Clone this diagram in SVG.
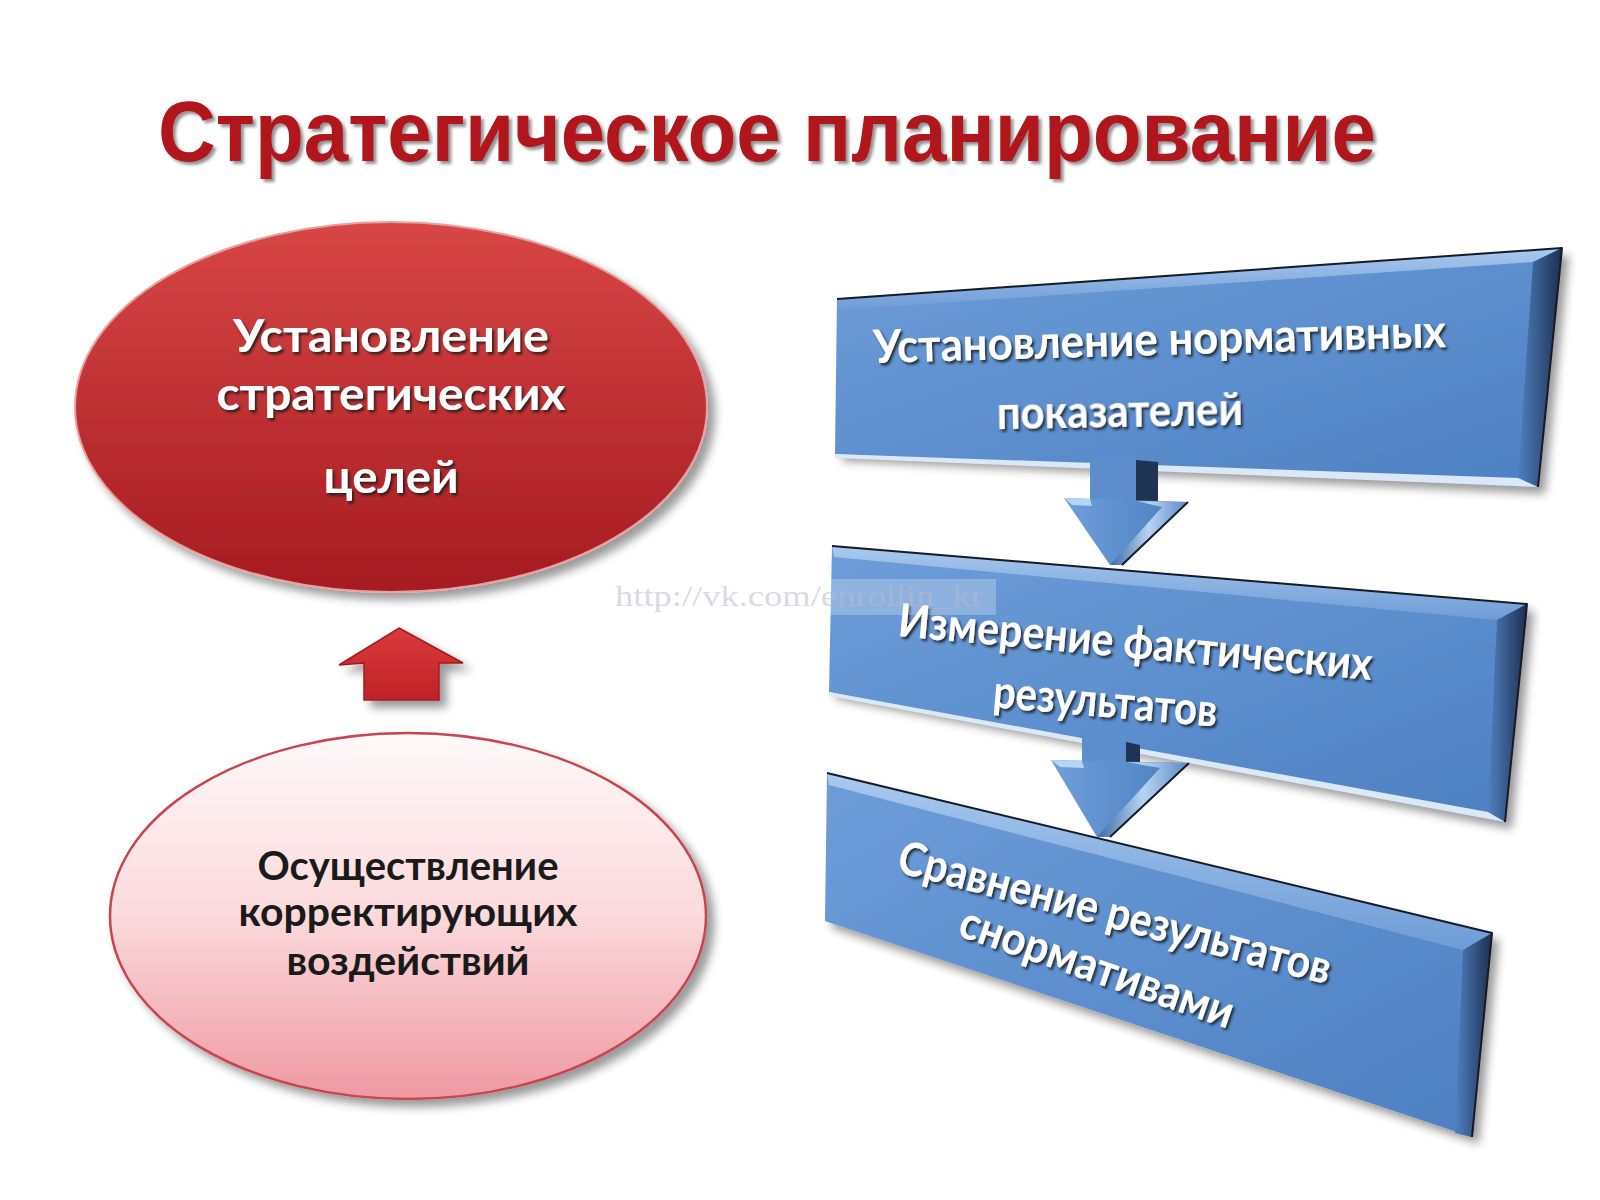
<svg xmlns="http://www.w3.org/2000/svg" width="1600" height="1200" viewBox="0 0 1600 1200">
<defs>
  <linearGradient id="gRed" x1="0" y1="0" x2="0" y2="1">
    <stop offset="0" stop-color="#d84646"/>
    <stop offset="1" stop-color="#a51b20"/>
  </linearGradient>
  <linearGradient id="gPink" x1="0" y1="0" x2="0" y2="1">
    <stop offset="0" stop-color="#fff9f9"/>
    <stop offset="0.5" stop-color="#fbd9dc"/>
    <stop offset="1" stop-color="#ef98a2"/>
  </linearGradient>
  <linearGradient id="gArrowRed" x1="0" y1="0" x2="0" y2="1">
    <stop offset="0" stop-color="#d83a3a"/>
    <stop offset="1" stop-color="#c02228"/>
  </linearGradient>
  <linearGradient id="gBlue" x1="0" y1="0" x2="1" y2="1">
    <stop offset="0" stop-color="#6d9dd9"/>
    <stop offset="1" stop-color="#4d80c2"/>
  </linearGradient>
  <linearGradient id="gTop" x1="0" y1="0" x2="0" y2="1">
    <stop offset="0" stop-color="#a9c9ef"/>
    <stop offset="1" stop-color="#6f9cd6"/>
  </linearGradient>
  <linearGradient id="gSide" x1="0" y1="0" x2="1" y2="0">
    <stop offset="0" stop-color="#4f80c0"/>
    <stop offset="1" stop-color="#1c2f50"/>
  </linearGradient>
  <linearGradient id="gHead" x1="0" y1="0" x2="1" y2="0">
    <stop offset="0" stop-color="#6f9fdb"/>
    <stop offset="1" stop-color="#4a7cbd"/>
  </linearGradient>
  <linearGradient id="gHeadBevel" x1="0" y1="0" x2="1" y2="0">
    <stop offset="0" stop-color="#3d6aa6"/>
    <stop offset="0.5" stop-color="#b8d4f4"/>
    <stop offset="1" stop-color="#5c88c4"/>
  </linearGradient>
  <filter id="shadow" x="-10%" y="-10%" width="130%" height="140%">
    <feGaussianBlur in="SourceAlpha" stdDeviation="5"/>
    <feOffset dx="7" dy="7" result="b"/>
    <feComponentTransfer><feFuncA type="linear" slope="0.4"/></feComponentTransfer>
    <feMerge><feMergeNode/><feMergeNode in="SourceGraphic"/></feMerge>
  </filter>
  <filter id="txtShadow" x="-5%" y="-20%" width="110%" height="150%">
    <feDropShadow dx="2" dy="2.5" stdDeviation="1.2" flood-color="#151515" flood-opacity="0.8"/>
  </filter>
  <filter id="titleShadow" x="-5%" y="-20%" width="110%" height="150%">
    <feDropShadow dx="3" dy="3" stdDeviation="1.5" flood-color="#3a3a3a" flood-opacity="0.55"/>
  </filter>
  <style>
    .title { font-family: "Liberation Sans", Arial, sans-serif; font-weight: 700; font-size: 86px; fill: #b0141a; }
    .wt { font-family: Lato, "Open Sans", "Noto Sans", sans-serif; font-weight: 700; fill: #ffffff; }
    .bt { font-family: Lato, "Open Sans", "Noto Sans", sans-serif; font-weight: 700; fill: #1a1a1a; }
    .edge { fill: none; stroke: #151a24; stroke-width: 2; stroke-linejoin: round; }
    .wm { font-family: "Liberation Serif", "Times New Roman", serif; font-size: 30px; fill: #b8b8cc; fill-opacity: 0.55; }
  </style>
</defs>

<rect x="0" y="0" width="1600" height="1200" fill="#ffffff"/>

<g id="title">
  <text class="title" x="158" y="161" textLength="1218" lengthAdjust="spacingAndGlyphs" filter="url(#titleShadow)">Стратегическое планирование</text>
</g>

<g id="node-goals">
  <ellipse cx="391" cy="407" rx="316" ry="185" fill="url(#gRed)" stroke="#e8a0a0" stroke-width="2" filter="url(#shadow)"/>
  <g filter="url(#txtShadow)">
    <text class="wt" x="391" y="352" font-size="46" text-anchor="middle" textLength="316" lengthAdjust="spacingAndGlyphs">Установление</text>
    <text class="wt" x="391" y="410" font-size="46" text-anchor="middle" textLength="349" lengthAdjust="spacingAndGlyphs">стратегических</text>
    <text class="wt" x="391" y="493" font-size="46" text-anchor="middle" textLength="135" lengthAdjust="spacingAndGlyphs">целей</text>
  </g>
</g>

<g id="node-correct">
  <ellipse cx="408" cy="916" rx="298" ry="183" fill="url(#gPink)" stroke="#c8444e" stroke-width="2.5" filter="url(#shadow)"/>
  <text class="bt" x="408" y="880" font-size="40" text-anchor="middle" textLength="301" lengthAdjust="spacingAndGlyphs">Осуществление</text>
  <text class="bt" x="408" y="926" font-size="40" text-anchor="middle" textLength="339" lengthAdjust="spacingAndGlyphs">корректирующих</text>
  <text class="bt" x="408" y="975" font-size="40" text-anchor="middle" textLength="243" lengthAdjust="spacingAndGlyphs">воздействий</text>
</g>

<g id="node-box1">
  <polygon points="837,299 1562,248 1538,487 835,454" fill="url(#gBlue)" filter="url(#shadow)"/>
  <polygon points="837,299 1562,248 1533,262 839,310" fill="url(#gTop)"/>
  <polygon points="1533,262 1562,248 1538,487 1518,478" fill="url(#gSide)"/>
  <polygon points="835,454 1518,478 1538,487 835,458" fill="#dbe8f8"/>
  <polyline class="edge" points="837,299 1562,248 1538,487"/>
  <g filter="url(#txtShadow)">
    <text class="wt" x="1160" y="355" font-size="46" text-anchor="middle" textLength="573" lengthAdjust="spacingAndGlyphs" transform="rotate(-1.6 1160 355)">Установление нормативных</text>
    <text class="wt" x="1120" y="427" font-size="46" text-anchor="middle" textLength="246" lengthAdjust="spacingAndGlyphs" transform="rotate(-1 1120 427)">показателей</text>
  </g>
</g>

<g id="node-box2">
  <polygon points="832,546 1527,604 1505,822 829,692" fill="url(#gBlue)" filter="url(#shadow)"/>
  <polygon points="832,546 1527,604 1497,620 834,557" fill="url(#gTop)"/>
  <polygon points="1497,620 1527,604 1505,822 1488,812" fill="url(#gSide)"/>
  <polygon points="829,692 1488,812 1505,822 829,696" fill="#dbe8f8"/>
  <polyline class="edge" points="832,546 1527,604 1505,822"/>
</g>

<g id="node-box3">
  <polygon points="827,773 1492,933 1472,1137 825,921" fill="url(#gBlue)" filter="url(#shadow)"/>
  <polygon points="827,773 1492,933 1463,950 829,785" fill="url(#gTop)"/>
  <polygon points="1463,950 1492,933 1472,1137 1455,1133" fill="url(#gSide)"/>
  <polyline class="edge" points="827,773 1492,933 1472,1137"/>
  <g filter="url(#txtShadow)">
    <text class="wt" x="1111" y="928" font-size="46" text-anchor="middle" textLength="446" lengthAdjust="spacingAndGlyphs" transform="rotate(14.7 1111 928)">Сравнение результатов</text>
    <text class="wt" x="1092" y="982" font-size="46" text-anchor="middle" textLength="287" lengthAdjust="spacingAndGlyphs" transform="rotate(19 1092 982)">снормативами</text>
  </g>
</g>

<g id="connectors">
  <!-- red up arrow -->
  <polygon points="399,628 463,663 439,663 439,700 364,700 364,663 339,665" fill="url(#gArrowRed)" stroke="#a8181e" stroke-width="1.5" filter="url(#shadow)"/>
  <!-- blue arrow 1 -->
  <g>
    <rect x="1090" y="455" width="46" height="46" fill="#5d8dcc"/>
    <polygon points="1136,460 1158,462 1158,501 1136,501" fill="#1f3354"/>
    <polygon points="1064,498 1188,502 1110,565" fill="url(#gHead)"/>
    <polygon points="1136,501 1188,502 1122,565 1110,565 1162,507" fill="url(#gHeadBevel)"/>
    <polygon points="1064,498 1090,499 1092,506 1072,505" fill="#b8d4f4"/>
    <polyline class="edge" points="1188,502 1122,565"/>
  </g>
  <!-- blue arrow 2 -->
  <g>
    <rect x="1082" y="735" width="44" height="28" fill="#5d8dcc"/>
    <polygon points="1126,742 1140,745 1140,763 1126,763" fill="#1f3354"/>
    <polygon points="1051,760 1189,763 1097,837" fill="url(#gHead)"/>
    <polygon points="1126,762 1189,763 1110,837 1097,837 1160,768" fill="url(#gHeadBevel)"/>
    <polygon points="1051,760 1082,761 1084,768 1060,767" fill="#b8d4f4"/>
    <polyline class="edge" points="1189,763 1110,837"/>
  </g>
</g>

<g id="box2-text" filter="url(#txtShadow)">
  <text class="wt" x="1134" y="658" font-size="46" text-anchor="middle" textLength="476" lengthAdjust="spacingAndGlyphs" transform="rotate(5.3 1134 658)">Измерение фактических</text>
  <text class="wt" x="1104" y="717" font-size="46" text-anchor="middle" textLength="225" lengthAdjust="spacingAndGlyphs" transform="rotate(5 1104 717)">результатов</text>
</g>

<g id="watermark">
  <rect x="828" y="579" width="168" height="36" fill="#ffffff" fill-opacity="0.25"/>
  <text class="wm" x="615" y="606" textLength="368" lengthAdjust="spacingAndGlyphs">http://vk.com/enrollin_kr</text>
</g>
</svg>
